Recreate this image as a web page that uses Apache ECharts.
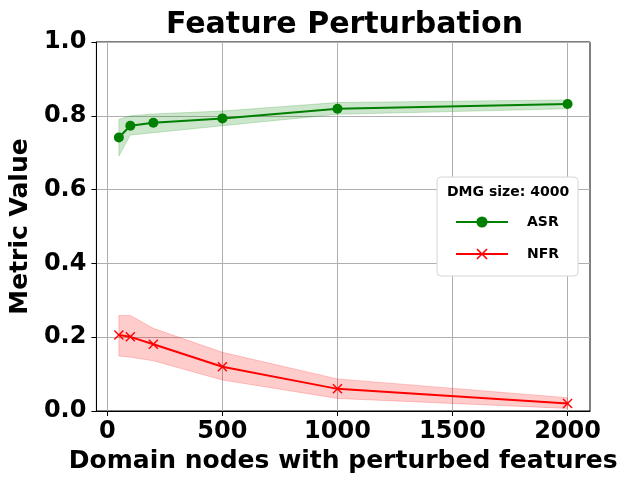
<!DOCTYPE html>
<html lang="en">
<head>
  <meta charset="UTF-8">
  <title>Feature Perturbation</title>
  <script src="https://cdn.jsdelivr.net/npm/echarts@6/dist/echarts.min.js"></script>
  <style>
    html,body{padding:0;margin:0;background:#fff;}
    #chartBox{width:626px;height:485px;}
  </style>
</head>
<body>
  <div id="chartBox"></div>
  <script>
    // domain nodes with perturbed features
    const nodes = [50, 100, 200, 500, 1000, 2000]
    const xTicks = [0, 500, 1000, 1500, 2000]

    const asrMean = [0.741, 0.773, 0.781, 0.793, 0.819, 0.832]
    const asrLow  = [0.691, 0.748, 0.754, 0.773, 0.804, 0.819]
    const asrHigh = [0.790, 0.800, 0.805, 0.813, 0.836, 0.843]

    const nfrMean = [0.206, 0.201, 0.181, 0.120, 0.060, 0.020]
    const nfrLow  = [0.149, 0.146, 0.136, 0.084, 0.034, 0.007]
    const nfrHigh = [0.259, 0.259, 0.224, 0.159, 0.087, 0.036]

    const font = 'DejaVu Sans'
    const xCross = 'path://M1,0L5,4L9,0L10,1L6,5L10,9L9,10L5,6L1,10L0,9L4,5L0,1Z'

    const pairs = (ys) => nodes.map((x, i) => [x, ys[i]])

    // shaded band between lo and hi, drawn as one polygon through the axes
    function band(lo, hi, fill) {
      return {
        type: 'custom', silent: true, z: 1, clip: true,
        data: nodes.map((x, i) => [x, lo[i], hi[i]]),
        encode: {x: 0, y: [1, 2]},
        renderItem: (params, api) => {
          if (params.dataIndex !== 0) return null
          const top = nodes.map((x, i) => api.coord([x, hi[i]]))
          const bot = nodes.map((x, i) => api.coord([x, lo[i]])).reverse()
          return {
            type: 'polygon',
            shape: {points: top.concat(bot)},
            style: {fill: fill, stroke: fill, lineWidth: 1}
          }
        }
      }
    }

    let option = {
      animation: false,
      textStyle: {fontFamily: font},
      title: {
        text: 'Feature Perturbation',
        left: 161,
        top: 5,
        textStyle: {fontSize: 30, fontWeight: 'bold', color: '#000', fontFamily: font}
      },
      grid: {
        left: 93, right: 36, top: 42, bottom: 74,
        show: true, borderColor: '#000', borderWidth: 1
      },
      legend: {
        orient: 'vertical',
        left: 437, top: 177,
        data: ['ASR', 'NFR'],
        backgroundColor: '#fff',
        borderColor: '#d6d6d6',
        borderWidth: 1,
        borderRadius: 4,
        padding: [38, 19, 15, 18],
        itemGap: 18,
        itemWidth: 52,
        itemHeight: 14,
        textStyle: {
          fontSize: 14, fontWeight: 'bold', color: '#000', fontFamily: font,
          lineHeight: 14, padding: [0, 0, 0, 14]
        }
      },
      graphic: [{
        type: 'text',
        left: 447, top: 185,
        z: 100,
        style: {text: 'DMG size: 4000', font: 'bold 14px "DejaVu Sans"', fill: '#000'}
      }],
      xAxis: {
        type: 'value',
        min: -47.5, max: 2097.5,
        name: 'Domain nodes with perturbed features',
        nameLocation: 'middle',
        nameGap: 35,
        nameTextStyle: {fontSize: 25, fontWeight: 'bold', color: '#000', fontFamily: font},
        axisLine: {show: true, onZero: false, lineStyle: {color: '#000', width: 1}},
        axisTick: {show: true, length: 5, customValues: xTicks, lineStyle: {color: '#000'}},
        axisLabel: {
          customValues: xTicks, fontSize: 24, fontWeight: 'bold', color: '#000', margin: 9,
          formatter: (v) => String(v)
        },
        splitLine: {show: true, lineStyle: {color: '#b0b0b0', width: 1}}
      },
      yAxis: {
        type: 'value',
        min: 0, max: 1, interval: 0.2,
        name: 'Metric Value',
        nameLocation: 'middle',
        nameGap: 60,
        nameTextStyle: {fontSize: 25, fontWeight: 'bold', color: '#000', fontFamily: font},
        axisLine: {show: true, onZero: false, lineStyle: {color: '#000', width: 1}},
        axisTick: {show: true, length: 5, lineStyle: {color: '#000'}},
        axisLabel: {
          fontSize: 24, fontWeight: 'bold', color: '#000', margin: 10,
          formatter: (v) => v.toFixed(1)
        },
        splitLine: {show: true, lineStyle: {color: '#b0b0b0', width: 1}}
      },
      series: [
        band(asrLow, asrHigh, 'rgba(0,128,0,0.2)'),
        band(nfrLow, nfrHigh, 'rgba(255,0,0,0.2)'),
        {
          name: 'ASR', type: 'line', z: 5,
          color: '#008000',
          lineStyle: {width: 2, color: '#008000'},
          symbol: 'circle', symbolSize: 10,
          itemStyle: {color: '#008000'},
          data: pairs(asrMean)
        },
        {
          name: 'NFR', type: 'line', z: 5,
          color: '#ff0000',
          lineStyle: {width: 2, color: '#ff0000'},
          symbol: xCross, symbolSize: 10,
          itemStyle: {color: '#ff0000'},
          data: pairs(nfrMean)
        }
      ]
    };
    let myChart = echarts.init(document.getElementById('chartBox'));
    if (myChart) { myChart.setOption(option); }
  </script>
</body>
</html>
